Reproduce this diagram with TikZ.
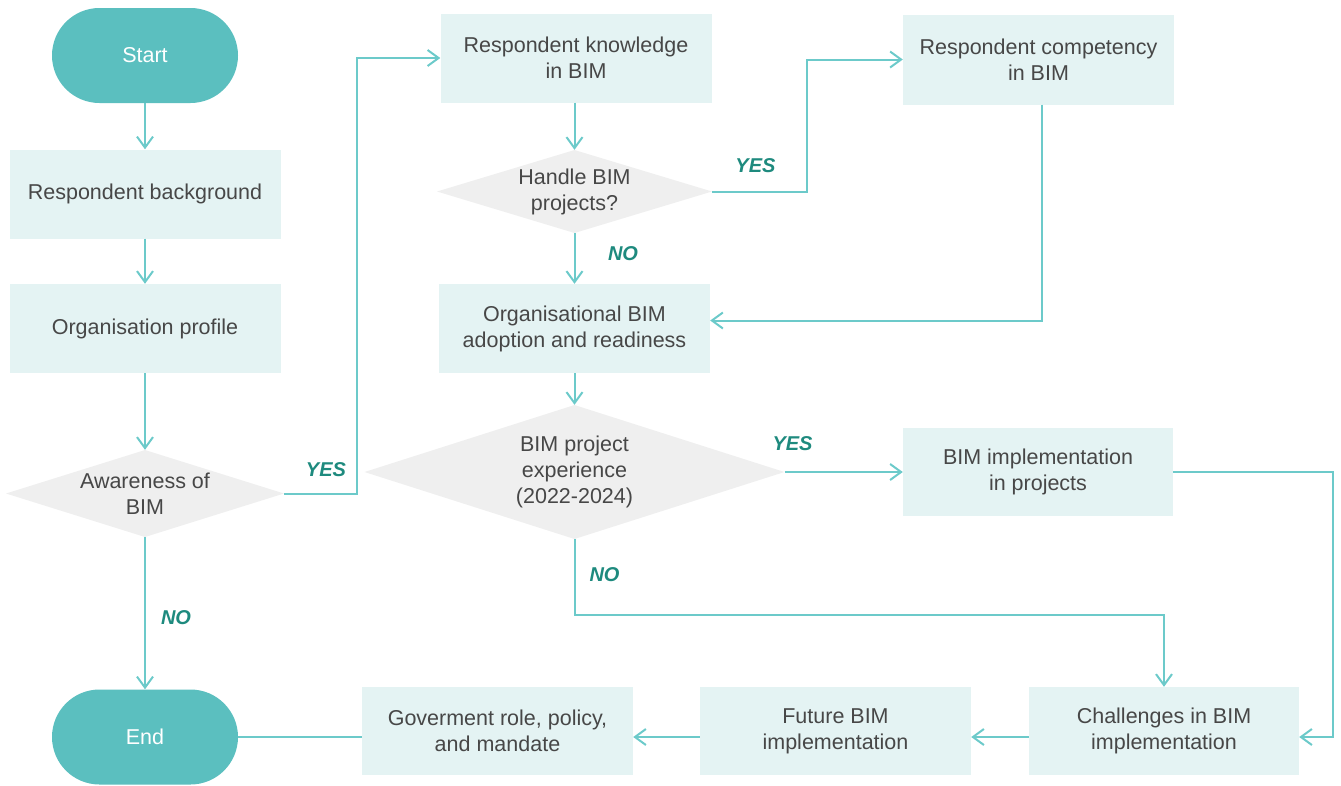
\documentclass[tikz,border=0pt]{standalone}
\usepackage{fontspec}
\setmainfont{Liberation Sans}
\usetikzlibrary{arrows.meta}
\definecolor{teal1}{HTML}{5BBFBF}
\definecolor{lineC}{HTML}{6CCACA}
\definecolor{boxC}{HTML}{E4F3F3}
\definecolor{diaC}{HTML}{EFEFEF}
\definecolor{txtC}{HTML}{474747}
\definecolor{lblC}{HTML}{1E8A7E}
\tikzset{
  base/.style={inner sep=0pt, align=center, text=txtC, font=\fontsize{21.5}{26}\selectfont},
  term/.style={base, fill=teal1, text=white, minimum width=186pt, minimum height=95pt, rounded corners=47.5pt},
  procbox/.style={base, fill=boxC, minimum width=271pt, minimum height=89pt},
  decis/.style={base, path picture={\fill[diaC] (path picture bounding box.north) -- (path picture bounding box.east) -- (path picture bounding box.south) -- (path picture bounding box.west) -- cycle;}},
  arr/.style={draw=lineC, line width=2pt, -{Straight Barb[length=11pt,width=16pt,line width=2pt]}},
  conn/.style={draw=lineC, line width=2pt},
  lbl/.style={inner sep=0pt, text=lblC, font=\fontsize{20}{24}\selectfont\bfseries\itshape}
}
\begin{document}
\begin{tikzpicture}[x=1pt,y=-1pt]
\useasboundingbox (0,0) rectangle (1341,785);
% nodes
\node[term] (start) at (145,55.5) {Start};
\node[procbox] (rbg) at (145,194) {Respondent background};
\node[procbox] (org) at (145,328.5) {Organisation profile};
\node[decis, minimum width=278pt, minimum height=87pt] (aw) at (145,493.5) {Awareness of\\BIM};
\node[term] (end) at (145,737) {End};
\node[procbox] (rk) at (576,58) {Respondent knowledge\\in BIM};
\node[decis, minimum width=275pt, minimum height=83pt] (hb) at (574.5,191.5) {Handle BIM\\projects?};
\node[procbox] (oa) at (574.5,328.5) {Organisational BIM\\adoption and readiness};
\node[decis, minimum width=420pt, minimum height=134pt] (bp) at (574.5,472) {BIM project\\experience\\(2022-2024)};
\node[procbox, minimum height=90pt] (rc) at (1038.5,59.5) {Respondent competency\\in BIM};
\node[procbox, minimum width=270pt, minimum height=88pt] (bi) at (1038,472) {BIM implementation\\in projects};
\node[procbox, minimum width=270pt, minimum height=88pt] (ch) at (1164,731) {Challenges in BIM\\implementation};
\node[procbox, minimum height=88pt] (fu) at (835.5,731) {Future BIM\\implementation};
\node[procbox, minimum height=88pt] (gv) at (497.5,731) {Goverment role, policy,\\and mandate};
% connectors
\draw[arr] (start.south) -- (rbg.north);
\draw[arr] (rbg.south) -- (org.north);
\draw[arr] (org.south) -- (aw.north);
\draw[arr] (aw.south) -- (end.north);
\draw[arr] (aw.east) -- ++(73,0) |- (rk.west);
\draw[arr] (rk.south -| hb.north) -- (hb.north);
\draw[arr] (hb.east) -- ++(95,0) |- (rc.west);
\draw[arr] (hb.south) -- (oa.north);
\draw[arr] ([xshift=3.5pt]rc.south) |- ([yshift=8pt]oa.east);
\draw[arr] (oa.south) -- (bp.north);
\draw[arr] (bp.east) -- (bi.west);
\draw[arr] (bp.south) -- ++(0,76) -| (ch.north);
\draw[arr] (bi.east) -- ++(160,0) |- ([yshift=-6pt]ch.east);
\draw[arr] ([yshift=-6pt]ch.west) -- ([yshift=-6pt]fu.east);
\draw[arr] ([yshift=-6pt]fu.west) -- ([yshift=-6pt]gv.east);
\draw[conn] ([yshift=-6pt]gv.west) -- (end.east);
% labels
\node[lbl] (l1) at (326,470) {YES};
\node[lbl] (l2) at (176,618) {NO};
\node[lbl] (l3) at (755.5,165.5) {YES};
\node[lbl] (l4) at (623,254) {NO};
\node[lbl] (l5) at (792.5,443.5) {YES};
\node[lbl] (l6) at (604.5,574.5) {NO};
\end{tikzpicture}
\end{document}
